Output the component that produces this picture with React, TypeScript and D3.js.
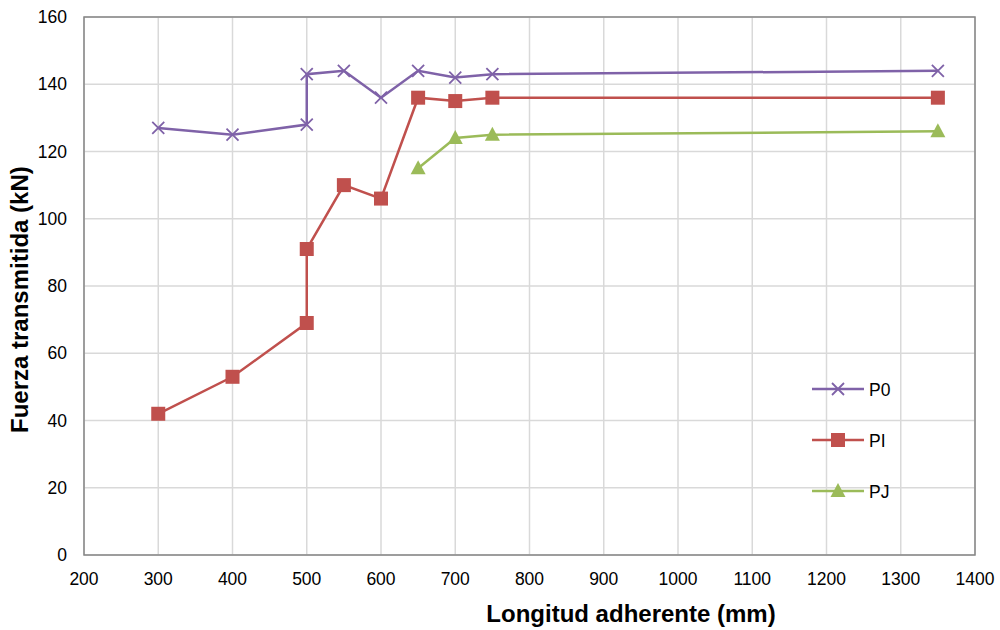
import React from "react";
import * as d3 from "d3";

const p0X = [300, 400, 500, 500, 550, 600, 650, 700, 750, 1350];
const p0Y = [127, 125, 128, 143, 144, 136, 144, 142, 143, 144];
const piX = [300, 400, 500, 500, 550, 600, 650, 700, 750, 1350];
const piY = [42, 53, 69, 91, 110, 106, 136, 135, 136, 136];
const pjX = [650, 700, 750, 1350];
const pjY = [115, 124, 125, 126];
const xTicks = [200, 300, 400, 500, 600, 700, 800, 900, 1000, 1100, 1200, 1300, 1400];
const yTicks = [0, 20, 40, 60, 80, 100, 120, 140, 160];
const seriesNames = ["P0", "PI", "PJ"];

const W = 1000, H = 630;
const L = 84, R = 975, T = 17, B = 555;

export default function App() {
  const x = d3.scaleLinear().domain([200, 1400]).range([L, R]);
  const y = d3.scaleLinear().domain([0, 160]).range([B, T]);
  const line = d3.line<[number, number]>().x(d => x(d[0])).y(d => y(d[1]));
  const series = [
    { name: seriesNames[0], xs: p0X, ys: p0Y, color: "#7F62A8", marker: "x" },
    { name: seriesNames[1], xs: piX, ys: piY, color: "#C0504D", marker: "sq" },
    { name: seriesNames[2], xs: pjX, ys: pjY, color: "#9BBB59", marker: "tri" },
  ];
  const marker = (type: string, cx: number, cy: number, color: string, key: any) => {
    if (type === "x") {
      const s = 6;
      return (
        <path key={key} d={`M${cx - s},${cy - s}L${cx + s},${cy + s}M${cx - s},${cy + s}L${cx + s},${cy - s}`} stroke={color} strokeWidth={1.8} fill="none" />
      );
    }
    if (type === "sq") {
      return <rect key={key} x={cx - 7} y={cy - 7} width={14} height={14} fill={color} />;
    }
    return <path key={key} d={`M${cx},${cy - 8}L${cx + 7.5},${cy + 6}L${cx - 7.5},${cy + 6}Z`} fill={color} />;
  };
  const font = "Arial, 'Liberation Sans', sans-serif";
  return (
    <svg width={W} height={H} style={{ position: "absolute", left: 0, top: 0, background: "#fff" }} fontFamily={font}>
      <rect x={0} y={0} width={W} height={H} fill="#fff" />
      {xTicks.map(t => (
        <line key={"gx" + t} x1={x(t)} x2={x(t)} y1={T} y2={B} stroke="#D9D9D9" strokeWidth={1.5} />
      ))}
      {yTicks.map(t => (
        <line key={"gy" + t} x1={L} x2={R} y1={y(t)} y2={y(t)} stroke="#D9D9D9" strokeWidth={1.5} />
      ))}
      <rect x={L} y={T} width={R - L} height={B - T} fill="none" stroke="#868686" strokeWidth={1.5} />
      {xTicks.map(t => (
        <text key={"tx" + t} x={x(t)} y={B + 30} textAnchor="middle" fontSize={17.5} fill="#000">{t}</text>
      ))}
      {yTicks.map(t => (
        <text key={"ty" + t} x={L - 17} y={y(t) + 6} textAnchor="end" fontSize={17.5} fill="#000">{t}</text>
      ))}
      {series.map(s => (
        <g key={s.name}>
          <path d={line(s.xs.map((v, i) => [v, s.ys[i]] as [number, number])) || ""} fill="none" stroke={s.color} strokeWidth={2.5} />
          {s.xs.map((v, i) => marker(s.marker, x(v), y(s.ys[i]), s.color, i))}
        </g>
      ))}
      {series.map((s, i) => {
        const ly = 389 + i * 51;
        return (
          <g key={"lg" + s.name}>
            <line x1={812} x2={864} y1={ly} y2={ly} stroke={s.color} strokeWidth={2.5} />
            {marker(s.marker, 838, ly, s.color, "m")}
            <text x={869} y={ly + 6.5} fontSize={17.5} fill="#000">{s.name}</text>
          </g>
        );
      })}
      <text x={631} y={622} textAnchor="middle" fontSize={24} fontWeight="bold" fill="#000">Longitud adherente (mm)</text>
      <text transform={`translate(28,433) rotate(-90)`} textAnchor="start" fontSize={24} fontWeight="bold" fill="#000">Fuerza transmitida (kN)</text>
    </svg>
  );
}
